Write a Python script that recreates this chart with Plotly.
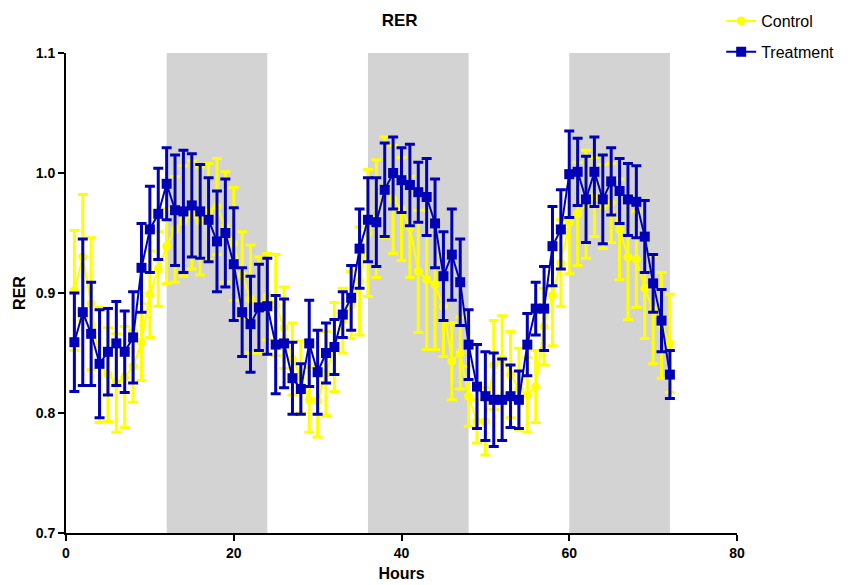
import plotly.graph_objects as go

hours = list(range(1, 73))

control_mean = [
    0.902, 0.930, 0.891, 0.840, 0.832, 0.825, 0.830, 0.839, 0.859, 0.899,
    0.920, 0.939, 0.953, 0.960, 0.965, 0.960, 0.968, 0.972, 0.955, 0.941,
    0.915, 0.895, 0.890, 0.897, 0.890, 0.871, 0.845, 0.830, 0.811, 0.810,
    0.833, 0.855, 0.877, 0.890, 0.910, 0.950, 0.962, 0.988, 0.978, 0.970,
    0.955, 0.918, 0.911, 0.907, 0.889, 0.843, 0.850, 0.814, 0.793, 0.793,
    0.840, 0.845, 0.832, 0.820, 0.815, 0.822, 0.872, 0.898, 0.925, 0.959,
    0.966, 0.974, 0.980, 0.972, 0.975, 0.953, 0.930, 0.928, 0.904, 0.886,
    0.873, 0.858,
]
control_err = [
    0.050, 0.052, 0.055, 0.048, 0.039, 0.041, 0.042, 0.030, 0.032, 0.036,
    0.031, 0.031, 0.044, 0.046, 0.045, 0.045, 0.040, 0.040, 0.046, 0.047,
    0.036, 0.045, 0.040, 0.036, 0.042, 0.034, 0.030, 0.030, 0.027, 0.030,
    0.035, 0.037, 0.027, 0.028, 0.045, 0.053, 0.049, 0.042, 0.045, 0.043,
    0.042, 0.051, 0.058, 0.054, 0.042, 0.032, 0.030, 0.025, 0.018, 0.028,
    0.037, 0.036, 0.036, 0.034, 0.031, 0.030, 0.032, 0.042, 0.036, 0.043,
    0.043, 0.045, 0.033, 0.035, 0.033, 0.042, 0.052, 0.040, 0.042, 0.045,
    0.044, 0.041,
]

treatment_mean = [
    0.859, 0.884, 0.866, 0.841, 0.851, 0.858, 0.851, 0.863, 0.921, 0.953,
    0.966, 0.991, 0.969, 0.968, 0.973, 0.968, 0.961, 0.943, 0.950, 0.924,
    0.884, 0.874, 0.888, 0.889, 0.857, 0.858, 0.829, 0.820, 0.858, 0.834,
    0.850, 0.855, 0.882, 0.896, 0.937, 0.961, 0.959, 0.986, 1.000, 0.994,
    0.990, 0.984, 0.980, 0.958, 0.914, 0.932, 0.909, 0.857, 0.822, 0.814,
    0.811, 0.811, 0.814, 0.811, 0.857, 0.887, 0.887, 0.939, 0.953, 0.999,
    1.001, 0.978, 1.001, 0.978, 0.993, 0.985, 0.978, 0.976, 0.947, 0.908,
    0.877, 0.832,
]
treatment_err = [
    0.041, 0.061, 0.043, 0.045, 0.036, 0.035, 0.034, 0.038, 0.037, 0.036,
    0.038, 0.030, 0.046, 0.051, 0.043, 0.039, 0.035, 0.042, 0.045, 0.047,
    0.037, 0.040, 0.036, 0.040, 0.041, 0.037, 0.030, 0.021, 0.036, 0.035,
    0.025, 0.023, 0.019, 0.027, 0.033, 0.035, 0.037, 0.039, 0.030, 0.027,
    0.034, 0.025, 0.032, 0.037, 0.037, 0.038, 0.036, 0.029, 0.035, 0.037,
    0.039, 0.034, 0.026, 0.024, 0.026, 0.022, 0.035, 0.033, 0.033, 0.036,
    0.028, 0.036, 0.029, 0.037, 0.028, 0.027, 0.030, 0.030, 0.030, 0.024,
    0.026, 0.020,
]

dark_periods = [(12, 24), (36, 48), (60, 72)]
x_ticks = [0, 20, 40, 60, 80]
y_ticks = [0.7, 0.8, 0.9, 1.0, 1.1]
y_tick_labels = ["0.7", "0.8", "0.9", "1.0", "1.1"]

YELLOW = "#ffff00"
BLUE = "#0000b8"
FONT = "Liberation Sans, Arial, sans-serif"

fig = go.Figure()

fig.add_trace(go.Scatter(
    x=hours, y=control_mean, name="Control", mode="lines+markers",
    legendgroup="c",
    line=dict(color=YELLOW, width=2),
    marker=dict(symbol="circle", size=9, color=YELLOW),
    error_y=dict(type="data", array=control_err, visible=True,
                 color=YELLOW, thickness=3, width=5),
))
fig.add_trace(go.Scatter(
    x=hours, y=treatment_mean, name="Treatment", mode="lines+markers",
    legendgroup="t",
    line=dict(color=BLUE, width=2),
    marker=dict(symbol="square", size=10, color=BLUE),
    error_y=dict(type="data", array=treatment_err, visible=True,
                 color=BLUE, thickness=3, width=5),
))

for x0, x1 in dark_periods:
    fig.add_shape(type="rect", xref="x", yref="y", x0=x0, x1=x1,
                  y0=y_ticks[0], y1=y_ticks[-1], fillcolor="#d3d3d3",
                  line=dict(width=0), layer="below")

fig.update_layout(
    width=844, height=577,
    margin=dict(l=58, r=115, t=45, b=52, autoexpand=False),
    paper_bgcolor="white", plot_bgcolor="white",
    font=dict(family=FONT, color="black"),
    title=dict(text="<b>RER</b>", x=0.464, xref="container", xanchor="center",
               yref="container", y=0.989, yanchor="top", font=dict(size=17)),
    legend=dict(x=0.845, y=1.102, xref="container", yref="paper",
                xanchor="left", yanchor="top",
                font=dict(size=16), bgcolor="rgba(0,0,0,0)",
                tracegroupgap=7, itemwidth=30),
    showlegend=True,
)
fig.update_xaxes(
    range=[0, 80], tickvals=x_ticks, ticktext=[str(t) for t in x_ticks],
    showline=True, linecolor="black", linewidth=2, ticks="outside",
    ticklen=6, tickwidth=2, tickcolor="black", showgrid=False, zeroline=False,
    automargin=False,
    tickfont=dict(size=14, family=FONT, weight="bold"),
    title=dict(text="<b>Hours</b>", font=dict(size=16), standoff=8),
)
fig.update_yaxes(
    range=[0.7, 1.1], tickvals=y_ticks, ticktext=y_tick_labels,
    showline=True, linecolor="black", linewidth=2, ticks="outside",
    ticklen=6, tickwidth=2, tickcolor="black", showgrid=False, zeroline=False,
    automargin=False,
    tickfont=dict(size=14, family=FONT, weight="bold"),
    title=dict(text="<b>RER</b>", font=dict(size=16), standoff=6),
)

fig.write_html("out.html")
